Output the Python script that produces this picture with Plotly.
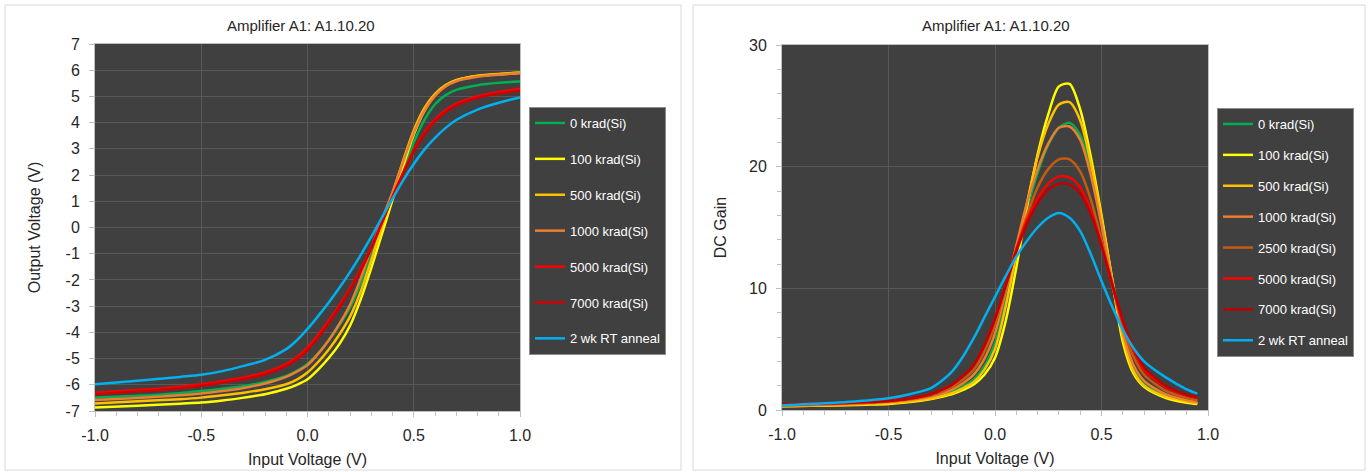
import plotly.graph_objects as go

# ---------------- Left chart: Output voltage vs input voltage ----------------
vin = [-1.0, -0.8, -0.6, -0.5, -0.4, -0.3, -0.2, -0.1, -0.05, 0.0, 0.05, 0.1, 0.15, 0.2, 0.25,
       0.3, 0.35, 0.4, 0.45, 0.5, 0.55, 0.6, 0.65, 0.7, 0.8, 0.9, 1.0]
vout_0 = [-6.49, -6.42, -6.32, -6.24, -6.15, -6.05, -5.89, -5.66, -5.47, -5.21, -4.8, -4.3, -3.72, -3.05, -2.15,
          -1.11, 0.0, 1.1, 2.2, 3.25, 4.1, 4.7, 5.05, 5.25, 5.43, 5.52, 5.57]
vout_100 = [-6.87, -6.8, -6.72, -6.68, -6.6, -6.49, -6.36, -6.15, -6.0, -5.79, -5.42, -4.98, -4.45, -3.75, -2.75,
            -1.55, -0.25, 1.05, 2.35, 3.55, 4.45, 5.05, 5.42, 5.62, 5.78, 5.85, 5.9]
vout_500 = [-6.71, -6.63, -6.55, -6.49, -6.4, -6.3, -6.17, -5.98, -5.8, -5.53, -5.13, -4.65, -4.08, -3.4, -2.45,
            -1.25, 0.02, 1.3, 2.55, 3.7, 4.55, 5.1, 5.43, 5.62, 5.79, 5.86, 5.9]
vout_1000 = [-6.58, -6.5, -6.4, -6.33, -6.24, -6.12, -5.95, -5.7, -5.5, -5.25, -4.82, -4.3, -3.68, -2.95, -1.95,
             -0.8, 0.3, 1.35, 2.5, 3.6, 4.45, 5.02, 5.38, 5.58, 5.75, 5.83, 5.88]
vout_5000 = [-6.3, -6.2, -6.07, -5.98, -5.86, -5.72, -5.53, -5.21, -4.95, -4.58, -4.1, -3.56, -2.97, -2.33, -1.6,
             -0.75, 0.2, 1.17, 2.1, 2.95, 3.62, 4.12, 4.47, 4.72, 5.0, 5.17, 5.28]
vout_7000 = [-6.36, -6.26, -6.13, -6.04, -5.92, -5.78, -5.6, -5.28, -5.03, -4.68, -4.2, -3.65, -3.05, -2.4, -1.66,
             -0.8, 0.17, 1.15, 2.06, 2.9, 3.56, 4.06, 4.41, 4.66, 4.94, 5.11, 5.22]
vout_anneal = [-5.98, -5.85, -5.7, -5.62, -5.48, -5.28, -5.05, -4.64, -4.3, -3.87, -3.38, -2.86, -2.3, -1.7, -1.05,
               -0.36, 0.38, 1.1, 1.8, 2.42, 2.97, 3.42, 3.8, 4.1, 4.5, 4.76, 4.96]

# ---------------- Right chart: DC gain vs input voltage ----------------
vin_g = [-1.0, -0.8, -0.6, -0.5, -0.4, -0.3, -0.25, -0.2, -0.15, -0.1, -0.05, 0.0, 0.05, 0.1, 0.15,
         0.2, 0.25, 0.3, 0.35, 0.4, 0.45, 0.5, 0.55, 0.6, 0.65, 0.7, 0.8, 0.9, 0.95]
gain_0 = [0.35, 0.42, 0.52, 0.6, 0.75, 1.0, 1.2, 1.5, 1.95, 2.5, 3.6, 5.5, 8.8, 12.8, 16.5,
          19.5, 21.8, 23.2, 23.6, 22.6, 19.8, 15.6, 10.8, 6.3, 3.3, 2.1, 1.2, 0.75, 0.6]
gain_100 = [0.3, 0.36, 0.44, 0.5, 0.65, 0.9, 1.08, 1.3, 1.65, 2.1, 2.9, 4.3, 7.3, 11.7, 16.7,
            21.0, 24.3, 26.6, 26.8, 24.7, 20.8, 16.0, 10.7, 5.6, 3.0, 1.9, 1.0, 0.6, 0.5]
gain_500 = [0.3, 0.38, 0.47, 0.55, 0.7, 0.95, 1.15, 1.4, 1.8, 2.3, 3.3, 5.0, 8.5, 12.8, 17.0,
            20.8, 23.5, 25.1, 25.3, 23.8, 20.3, 15.8, 10.8, 6.0, 3.2, 2.0, 1.1, 0.7, 0.55]
gain_1000 = [0.35, 0.43, 0.55, 0.65, 0.82, 1.1, 1.35, 1.7, 2.2, 2.9, 4.2, 6.3, 9.7, 13.5, 17.0,
             19.8, 21.9, 23.2, 23.3, 22.2, 19.3, 15.2, 10.6, 6.4, 3.7, 2.4, 1.3, 0.8, 0.65]
gain_2500 = [0.4, 0.48, 0.6, 0.7, 0.88, 1.2, 1.5, 1.9, 2.5, 3.3, 4.8, 7.0, 10.0, 13.2, 16.0,
             18.3, 19.8, 20.6, 20.6, 19.6, 17.3, 14.0, 10.3, 6.9, 4.4, 2.9, 1.6, 1.0, 0.8]
gain_5000 = [0.45, 0.53, 0.65, 0.75, 0.95, 1.3, 1.65, 2.1, 2.8, 3.7, 5.3, 7.5, 10.3, 13.2, 15.6,
             17.4, 18.6, 19.2, 19.1, 18.3, 16.4, 13.6, 10.3, 7.2, 4.9, 3.3, 1.9, 1.2, 1.0]
gain_7000 = [0.45, 0.53, 0.65, 0.75, 0.95, 1.3, 1.65, 2.1, 2.8, 3.7, 5.3, 7.5, 10.2, 13.0, 15.3,
             17.0, 18.1, 18.6, 18.5, 17.8, 16.1, 13.5, 10.4, 7.4, 5.1, 3.5, 2.0, 1.25, 1.05]
gain_anneal = [0.38, 0.55, 0.78, 0.96, 1.3, 1.8, 2.4, 3.2, 4.4, 5.9, 7.6, 9.3, 11.0, 12.6, 13.9,
               15.0, 15.8, 16.2, 15.8, 14.7, 12.8, 10.6, 8.5, 6.6, 5.1, 4.0, 2.7, 1.7, 1.35]

left_names = ["0 krad(Si)", "100 krad(Si)", "500 krad(Si)", "1000 krad(Si)",
              "5000 krad(Si)", "7000 krad(Si)", "2 wk RT anneal"]
left_series = [vout_0, vout_100, vout_500, vout_1000, vout_5000, vout_7000, vout_anneal]
left_colors = ["#00b050", "#ffff00", "#ffc000", "#ed7d31", "#ff0000", "#d00000", "#00b0f0"]

right_names = ["0 krad(Si)", "100 krad(Si)", "500 krad(Si)", "1000 krad(Si)", "2500 krad(Si)",
               "5000 krad(Si)", "7000 krad(Si)", "2 wk RT anneal"]
right_series = [gain_0, gain_100, gain_500, gain_1000, gain_2500, gain_5000, gain_7000, gain_anneal]
right_colors = ["#00b050", "#ffff00", "#ffc000", "#ed7d31", "#c55a11", "#ff0000", "#c00000", "#00b0f0"]

# tick labels (hyphen minus as in the reference)
x_tickvals = [-1.0, -0.5, 0.0, 0.5, 1.0]
x_ticktext = ["-1.0", "-0.5", "0.0", "0.5", "1.0"]
vout_tickvals = list(range(-7, 8))
vout_ticktext = [str(v) for v in vout_tickvals]
gain_tickvals = [0, 10, 20, 30]
gain_ticktext = ["0", "10", "20", "30"]

W, H = 1369, 472
FONT = "Liberation Sans, Arial, sans-serif"
TXT = "#262626"

fig = go.Figure()
for i, (n, s, c) in enumerate(zip(left_names, left_series, left_colors)):
    fig.add_trace(go.Scatter(x=vin, y=s, name=n, mode="lines",
                             line=dict(color=c, width=2.5, shape="spline", smoothing=0.8),
                             xaxis="x", yaxis="y", legend="legend", legendgroup=f"L{i}"))
for i, (n, s, c) in enumerate(zip(right_names, right_series, right_colors)):
    fig.add_trace(go.Scatter(x=vin_g, y=s, name=n, mode="lines",
                             line=dict(color=c, width=2.5, shape="spline", smoothing=0.8),
                             xaxis="x2", yaxis="y2", legend="legend2", legendgroup=f"R{i}"))

def px(x):
    return x / W

def py(y):
    return 1 - y / H

axis_common = dict(
    showline=True, linecolor="#bfbfbf", linewidth=1, mirror=True,
    gridcolor="#585858", gridwidth=1, zeroline=False, automargin=False,
    ticks="outside", ticklen=5, tickcolor="#bfbfbf",
    tickfont=dict(family=FONT, size=16, color=TXT),
)
title_font = dict(family=FONT, size=16, color=TXT)
minor_x = dict(dtick=0.1, ticks="outside", ticklen=4, tickcolor="#bfbfbf", showgrid=False)

fig.update_layout(
    width=W, height=H, margin=dict(l=0, r=0, t=0, b=0),
    paper_bgcolor="white", plot_bgcolor="#404040",
    font=dict(family=FONT, color=TXT),
    xaxis=dict(domain=[px(95), px(520)], range=[-1, 1],
               tickmode="array", tickvals=x_tickvals, ticktext=x_ticktext,
               minor=minor_x, ticklabelstandoff=5,
               title=dict(text="Input Voltage (V)", font=title_font, standoff=10),
               anchor="y", **axis_common),
    yaxis=dict(domain=[py(411), py(44)], range=[-7, 7],
               tickmode="array", tickvals=vout_tickvals, ticktext=vout_ticktext,
               ticklabelstandoff=6,
               title=dict(text="Output Voltage (V)", font=title_font, standoff=20),
               anchor="x", **axis_common),
    xaxis2=dict(domain=[px(782), px(1208)], range=[-1, 1],
                tickmode="array", tickvals=x_tickvals, ticktext=x_ticktext,
                minor=minor_x, ticklabelstandoff=5,
                title=dict(text="Input Voltage (V)", font=title_font, standoff=10),
                anchor="y2", **axis_common),
    yaxis2=dict(domain=[py(410), py(45)], range=[0, 30],
                tickmode="array", tickvals=gain_tickvals, ticktext=gain_ticktext,
                minor=dict(dtick=2, ticks="outside", ticklen=4, tickcolor="#bfbfbf", showgrid=False),
                ticklabelstandoff=6,
                title=dict(text="DC Gain", font=title_font, standoff=18),
                anchor="x2", **axis_common),
    legend=dict(x=px(529), y=py(107), xanchor="left", yanchor="top",
                bgcolor="#404040", bordercolor="#8c8c8c", borderwidth=1,
                font=dict(family=FONT, size=13, color="white"),
                itemwidth=30, tracegroupgap=16),
    legend2=dict(x=px(1217), y=py(108), xanchor="left", yanchor="top",
                 bgcolor="#404040", bordercolor="#8c8c8c", borderwidth=1,
                 font=dict(family=FONT, size=13, color="white"),
                 itemwidth=30, tracegroupgap=11),
    shapes=[
        dict(type="rect", xref="paper", yref="paper", x0=px(5), x1=px(681), y0=py(470), y1=py(5),
             line=dict(color="#d9d9d9", width=1), fillcolor="rgba(0,0,0,0)", layer="below"),
        dict(type="rect", xref="paper", yref="paper", x0=px(693), x1=px(1365), y0=py(470), y1=py(5),
             line=dict(color="#d9d9d9", width=1), fillcolor="rgba(0,0,0,0)", layer="below"),
    ],
    annotations=[
        dict(text="Amplifier A1: A1.10.20", xref="paper", yref="paper", x=px(301), y=py(26),
             showarrow=False, font=dict(family=FONT, size=15, color=TXT), xanchor="center", yanchor="middle"),
        dict(text="Amplifier A1: A1.10.20", xref="paper", yref="paper", x=px(996), y=py(26),
             showarrow=False, font=dict(family=FONT, size=15, color=TXT), xanchor="center", yanchor="middle"),
    ],
)

fig.write_html("out.html")
